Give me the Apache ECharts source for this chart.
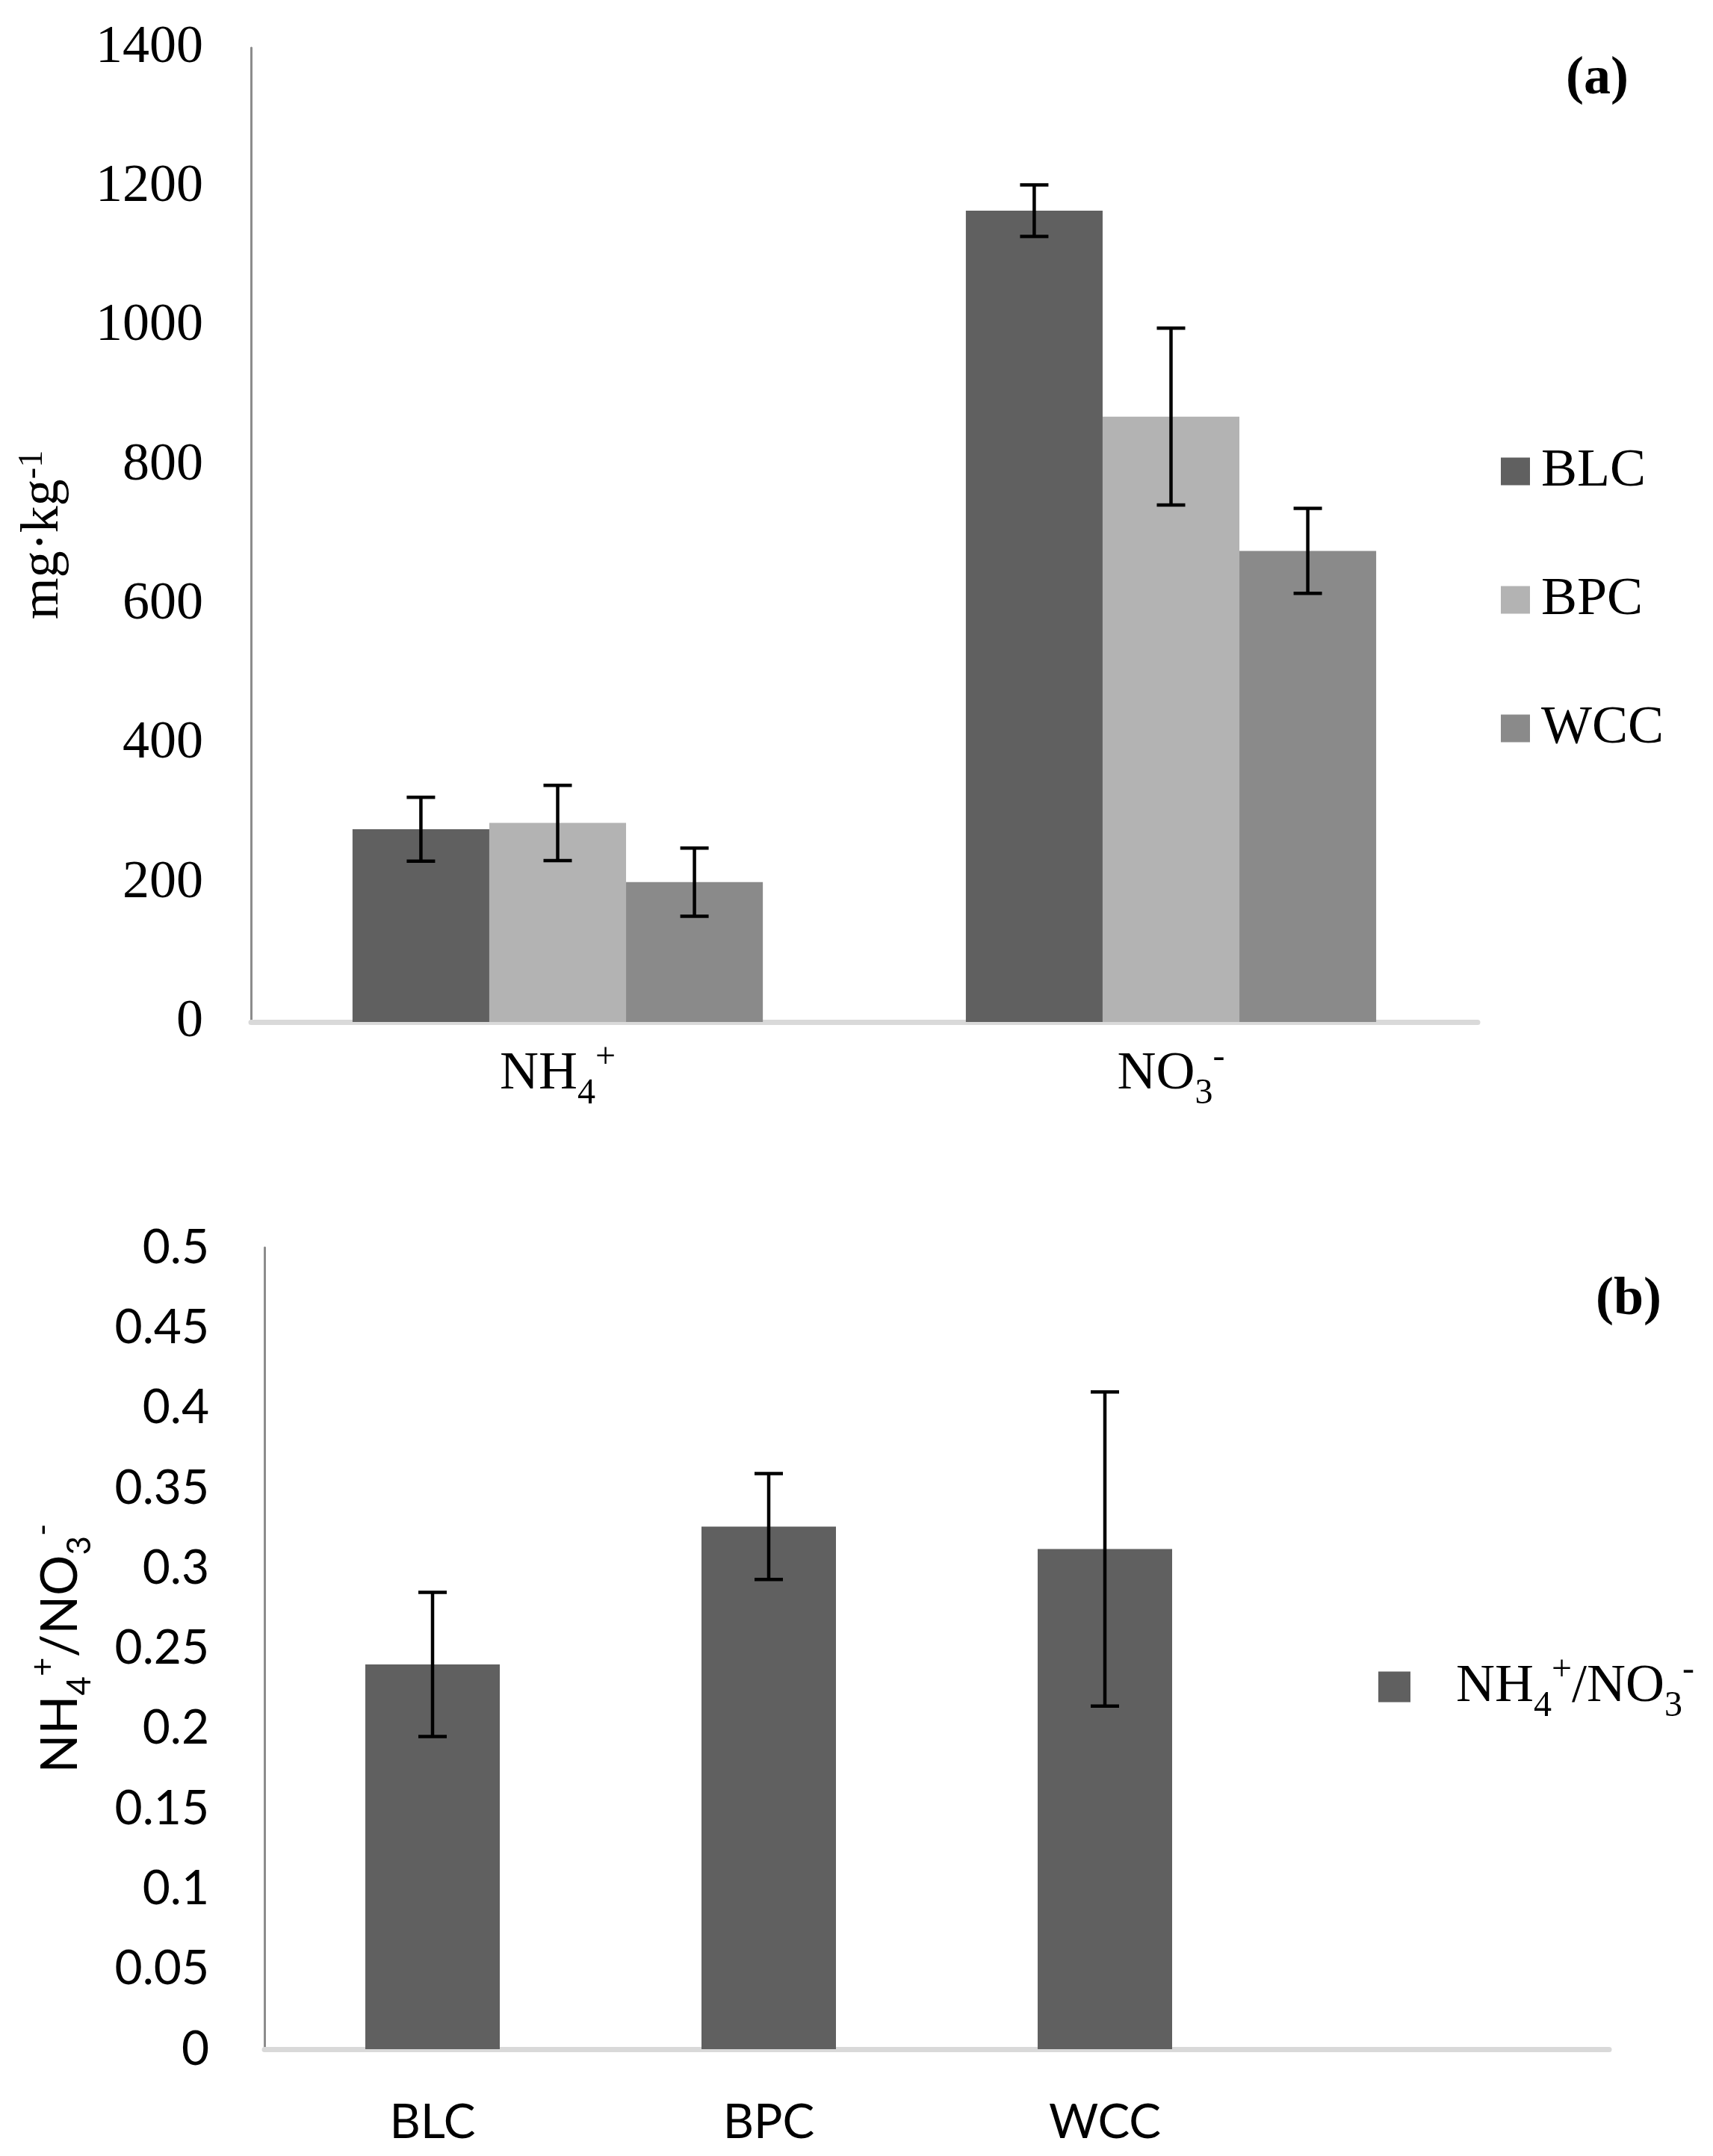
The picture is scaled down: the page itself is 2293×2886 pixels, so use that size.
<!DOCTYPE html>
<html>
<head>
<meta charset="utf-8">
<script src="https://cdn.jsdelivr.net/npm/echarts@6/dist/echarts.min.js"></script>
<style>
  html, body { margin: 0; padding: 0; background: #fff; }
  #chart_box { width: 2293px; height: 2886px; }
</style>
</head>
<body>
<div id="chart_box"></div>
<script>
// (a) soil mineral N, mg/kg
let ion_names = ['NH4+', 'NO3-'];
let blc_vals = [277, 1166];
let blc_errs = [46, 37];
let bpc_vals = [286, 870];
let bpc_errs = [54, 127];
let wcc_vals = [201, 677];
let wcc_errs = [49, 61];
let ticks_a = {min: 0, max: 1400, interval: 200};

// (b) NH4+/NO3- ratio
let soil_names = ['BLC', 'BPC', 'WCC', ''];
let ratio_vals = [0.240, 0.326, 0.312, null];
let ratio_errs = [0.045, 0.033, 0.098, null];
let ticks_b = {min: 0, max: 0.5, interval: 0.05};

const SERIF = "'Liberation Serif', 'Times New Roman', serif";
const SANS = "Lato, 'Open Sans', sans-serif";

// 'NH4+' -> rich text with subscript / superscript
function chem(s) {
    return s.replace(/([A-Za-z\/]+)(\d)([+-])/g, '{m|$1}{sb|$2}{sp|$3}');
}

let serif_rich = {
    m: {fontFamily: SERIF, fontSize: 72, color: '#000'},
    sb: {fontFamily: SERIF, fontSize: 48, color: '#000', padding: [52, 0, 0, 0]},
    sp: {fontFamily: SERIF, fontSize: 48, color: '#000', padding: [0, 0, 44, 0]}
};
let sans_rich = {
    m: {fontFamily: SANS, fontSize: 68, color: '#000'},
    sb: {fontFamily: SANS, fontSize: 44, color: '#000', padding: [52, 0, 0, 0]},
    sp: {fontFamily: SANS, fontSize: 44, color: '#000', padding: [0, 0, 46, 0]}
};

function errData(vals, errs) {
    return vals.map(function (v, i) {
        return v == null ? [i, '-', '-'] : [i, v - errs[i], v + errs[i]];
    });
}

// offset in band widths from the category center
function errorBar(offset) {
    return function (params, api) {
        if (isNaN(api.value(1))) return;
        let band = api.size([1, 0])[0];
        let xc = api.coord([api.value(0), 0])[0] + offset * band;
        let lo = api.coord([api.value(0), api.value(1)])[1];
        let hi = api.coord([api.value(0), api.value(2)])[1];
        let half = 19;
        let st = {stroke: '#000', lineWidth: 4.5};
        return {
            type: 'group',
            children: [
                {type: 'line', shape: {x1: xc, y1: hi, x2: xc, y2: lo}, style: st},
                {type: 'line', shape: {x1: xc - half, y1: hi, x2: xc + half, y2: hi}, style: st},
                {type: 'line', shape: {x1: xc - half, y1: lo, x2: xc + half, y2: lo}, style: st}
            ]
        };
    };
}

let bar_w = 0.223;
let chart = echarts.init(document.getElementById('chart_box'));
let option = {
    backgroundColor: '#fff',
    animation: false,
    textStyle: {fontFamily: SERIF, color: '#000'},
    grid: [
        {left: 336, top: 64, width: 1642, height: 1304},
        {left: 354, top: 1670, width: 1800, height: 1073}
    ],
    legend: [
        {
            data: ['BLC', 'BPC', 'WCC'],
            orient: 'vertical',
            left: 2004, top: 590,
            icon: 'rect',
            itemWidth: 39, itemHeight: 37, itemGap: 100,
            textStyle: {fontFamily: SERIF, fontSize: 72, lineHeight: 72, color: '#000', padding: [0, 0, 0, 10]}
        },
        {
            data: ['NH4+/NO3-'],
            orient: 'vertical',
            left: 1840, top: 2207,
            icon: 'rect',
            itemWidth: 43, itemHeight: 41,
            formatter: chem,
            textStyle: {fontFamily: SERIF, fontSize: 72, color: '#000', padding: [0, 0, 0, 56], rich: serif_rich}
        }
    ],
    graphic: [
        {type: 'text', left: 2096, top: 70, style: {text: '(a)', font: 'bold 72px ' + SERIF, fill: '#000'}},
        {type: 'text', left: 2136, top: 1704, style: {text: '(b)', font: 'bold 72px ' + SERIF, fill: '#000'}}
    ],
    xAxis: [
        {
            type: 'category', gridIndex: 0,
            data: ion_names,
            axisLine: {lineStyle: {color: '#d9d9d9', width: 7}},
            axisTick: {show: false},
            axisLabel: {interval: 0, margin: 20, formatter: chem, rich: serif_rich}
        },
        {
            type: 'category', gridIndex: 1,
            data: soil_names,
            axisLine: {lineStyle: {color: '#d9d9d9', width: 7}},
            axisTick: {show: false},
            axisLabel: {interval: 0, margin: 66, fontFamily: SANS, fontSize: 64, color: '#000'}
        }
    ],
    yAxis: [
        {
            type: 'value', gridIndex: 0,
            min: ticks_a.min, max: ticks_a.max, interval: ticks_a.interval,
            name: '{m|mg·kg}{sp|-1}',
            nameLocation: 'middle', nameRotate: 90, nameGap: 240,
            nameTextStyle: {rich: {
                m: {fontFamily: SERIF, fontSize: 72, color: '#000'},
                sp: {fontFamily: SERIF, fontSize: 46, color: '#000', padding: [0, 0, 29, 0]}
            }},
            axisLine: {show: true, lineStyle: {color: '#8c8c8c', width: 3}},
            axisTick: {show: false},
            splitLine: {show: false},
            axisLabel: {margin: 64, fontFamily: SERIF, fontSize: 72, color: '#000',
                formatter: function (v) { return String(v); }}
        },
        {
            type: 'value', gridIndex: 1,
            min: ticks_b.min, max: ticks_b.max, interval: ticks_b.interval,
            name: chem('NH4+/NO3-'),
            nameLocation: 'middle', nameRotate: 90, nameGap: 225,
            nameTextStyle: {rich: sans_rich},
            axisLine: {show: true, lineStyle: {color: '#8c8c8c', width: 3}},
            axisTick: {show: false},
            splitLine: {show: false},
            axisLabel: {margin: 74, fontFamily: SANS, fontSize: 64, color: '#000'}
        }
    ],
    series: [
        {name: 'BLC', type: 'bar', xAxisIndex: 0, yAxisIndex: 0, data: blc_vals,
            barWidth: (bar_w * 100) + '%', barGap: '0%', itemStyle: {color: '#606060'}},
        {name: 'BPC', type: 'bar', xAxisIndex: 0, yAxisIndex: 0, data: bpc_vals,
            barWidth: (bar_w * 100) + '%', barGap: '0%', itemStyle: {color: '#b3b3b3'}},
        {name: 'WCC', type: 'bar', xAxisIndex: 0, yAxisIndex: 0, data: wcc_vals,
            barWidth: (bar_w * 100) + '%', barGap: '0%', itemStyle: {color: '#8a8a8a'}},
        {type: 'custom', xAxisIndex: 0, yAxisIndex: 0, z: 5, renderItem: errorBar(-bar_w),
            data: errData(blc_vals, blc_errs), encode: {x: 0, y: [1, 2]}},
        {type: 'custom', xAxisIndex: 0, yAxisIndex: 0, z: 5, renderItem: errorBar(0),
            data: errData(bpc_vals, bpc_errs), encode: {x: 0, y: [1, 2]}},
        {type: 'custom', xAxisIndex: 0, yAxisIndex: 0, z: 5, renderItem: errorBar(bar_w),
            data: errData(wcc_vals, wcc_errs), encode: {x: 0, y: [1, 2]}},

        {name: 'NH4+/NO3-', type: 'bar', xAxisIndex: 1, yAxisIndex: 1,
            data: ratio_vals.map(function (v) { return v == null ? '-' : v; }),
            barWidth: '40%', itemStyle: {color: '#606060'}},
        {type: 'custom', xAxisIndex: 1, yAxisIndex: 1, z: 5, renderItem: errorBar(0),
            data: errData(ratio_vals, ratio_errs), encode: {x: 0, y: [1, 2]}}
    ]
};
chart.setOption(option);
window.onresize = chart.resize;
</script>
</body>
</html>
